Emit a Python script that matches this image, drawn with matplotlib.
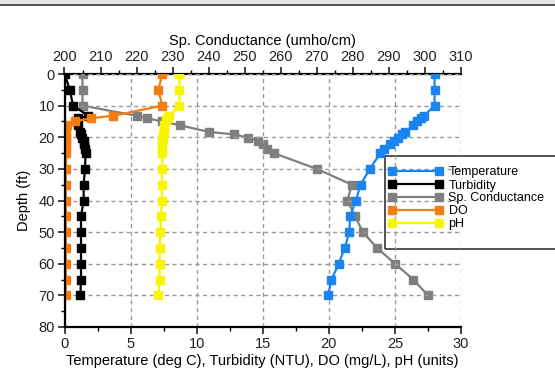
import matplotlib
matplotlib.use('Agg')
import matplotlib.pyplot as plt
from matplotlib.patches import Rectangle
from matplotlib.ticker import MultipleLocator

plt.rcParams['font.family'] = ['Liberation Sans', 'DejaVu Sans']

# profile readings
depth = [0, 5, 10, 13.2, 14, 15, 16.2, 18.3, 19.1, 20.1, 21.2, 22.2, 23.6, 25,
         30, 35, 40, 45, 50, 55, 60, 65, 70]
temperature = [28.0, 28.0, 28.0, 27.2, 27.0, 26.7, 26.4, 25.8, 25.5, 25.2, 24.9,
               24.6, 24.2, 23.9, 23.1, 22.4, 22.05, 21.6, 21.55, 21.2, 20.75,
               20.2, 19.95]
turbidity = [0.0, 0.4, 0.65, 1.8, 1.0, 0.85, 1.0, 1.15, 1.25, 1.35, 1.45, 1.5,
             1.55, 1.6, 1.55, 1.45, 1.45, 1.25, 1.25, 1.25, 1.25, 1.25, 1.2]
conductance = [205, 205, 205, 220, 223, 227, 232, 240, 247, 251, 253.8, 255,
               256.3, 258, 270, 279.7, 278.5, 280.6, 282.8, 286.7, 291.7,
               296.8, 300.8]
dissolved_oxygen = [7.4, 7.1, 7.4, 3.7, 2.0, 0.8, 0.2, 0.15, 0.15, 0.15, 0.15,
                    0.15, 0.15, 0.15, 0.1, 0.1, 0.1, 0.1, 0.1, 0.1, 0.1, 0.1, 0.1]
ph = [8.7, 8.7, 8.7, 7.9, 7.75, 7.65, 7.55, 7.5, 7.45, 7.45, 7.4, 7.4, 7.4, 7.4,
      7.4, 7.37, 7.37, 7.3, 7.25, 7.2, 7.2, 7.2, 7.1]

fig = plt.figure(figsize=(5.55, 3.76), dpi=100)
fig.add_artist(Rectangle((0, 1 - 4/376), 1, 4/376, transform=fig.transFigure,
                         color='#e6e9e9', lw=0))
fig.add_artist(Rectangle((0, 1 - 6/376), 1, 2/376, transform=fig.transFigure,
                         color='#555555', lw=0))

ax = fig.add_axes([64.5/555, 1 - 327/376, (461 - 64.5)/555, (327 - 74)/376])
ax2 = ax.twiny()
ax.set_zorder(ax2.get_zorder() + 1)
ax.patch.set_visible(False)

style = dict(marker='s', markersize=5.4, lw=1.6)
l_temp, = ax.plot(temperature, depth, color='#1a84f0', label='Temperature', **style)
l_turb, = ax.plot(turbidity, depth, color='black', label='Turbidity', **style)
l_cond, = ax2.plot(conductance, depth, color='#7f7f7f', label='Sp. Conductance', **style)
l_do, = ax.plot(dissolved_oxygen, depth, color='#f57c12', label='DO', **style)
l_ph, = ax.plot(ph, depth, color='#f8f500', label='pH', **style)

ax.set_xlim(0, 30)
ax2.set_xlim(200, 310)
ax.set_ylim(80, 0)

ax.xaxis.set_major_locator(MultipleLocator(5))
ax.xaxis.set_minor_locator(MultipleLocator(2.5))
ax.yaxis.set_major_locator(MultipleLocator(10))
ax.yaxis.set_minor_locator(MultipleLocator(5))
ax2.xaxis.set_major_locator(MultipleLocator(10))
ax2.xaxis.set_minor_locator(MultipleLocator(5))

for a in (ax, ax2):
    a.tick_params(which='major', length=5, width=1.2, labelsize=10.5,
                  colors='#222222', pad=2)
    a.tick_params(which='minor', length=3, width=1)
    a.spines['right'].set_visible(False)
ax.spines['top'].set_visible(False)
ax2.spines['bottom'].set_visible(False)
ax2.spines['left'].set_visible(False)
for s in ('left', 'bottom'):
    ax.spines[s].set_linewidth(1.6)
ax2.spines['top'].set_linewidth(1.6)

ax.grid(True, which='major', color='#9a9a9a', lw=1, linestyle=(0, (3, 2.5)))
ax.set_axisbelow(True)

ax.set_xlabel('Temperature (deg C), Turbidity (NTU), DO (mg/L), pH (units)',
              fontsize=10.5, labelpad=2)
ax.set_ylabel('Depth (ft)', fontsize=10.5, labelpad=5)
ax2.set_xlabel('Sp. Conductance (umho/cm)', fontsize=10.5, labelpad=4)

fig.add_artist(Rectangle((385/555, 1 - 249/376), 185/555, 93/376,
                         transform=fig.transFigure, fill=False,
                         edgecolor='#333333', lw=1.2))
fig.legend(handles=[l_temp, l_turb, l_cond, l_do, l_ph],
           loc='upper left', bbox_to_anchor=(386/555, 1 - 164/376),
           frameon=False, fontsize=9, numpoints=2, handlelength=4.3,
           handletextpad=0.5, labelspacing=0.08, borderpad=0.2,
           borderaxespad=0)

fig.savefig('out.png', dpi=100)
